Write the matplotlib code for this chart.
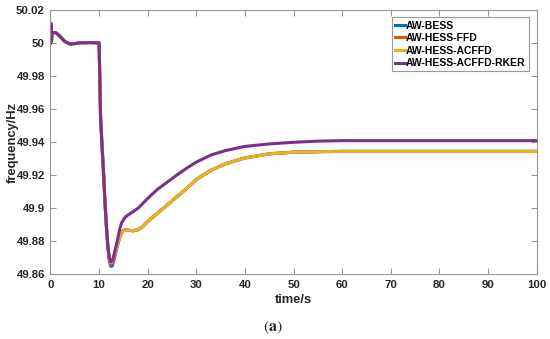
import numpy as np
import matplotlib
matplotlib.use("Agg")
from matplotlib import pyplot as plt

# ----- data -----
t = [0, 0.1, 0.2, 0.3, 0.5, 1, 1.5, 2, 3, 4, 5, 6, 8, 10,
     10.3, 10.6, 10.9, 11.2, 11.5, 11.8, 12.1, 12.4, 12.7, 13.0, 13.4, 13.8,
     14.2, 14.6, 15, 15.5, 16, 17, 18, 19, 20, 22, 24, 26, 28, 30,
     33, 36, 40, 45, 50, 55, 60, 70, 80, 90, 100]

head = [50.000, 50.012, 50.001, 50.006, 50.0065, 50.0065, 50.0055, 50.004, 50.001,
        49.9996, 49.9998, 50.0003, 50.0004, 50.0003,
        49.955, 49.938, 49.922, 49.904, 49.889, 49.877]

tail_acffd = [49.887, 49.889, 49.892, 49.897, 49.902, 49.907, 49.912, 49.9175,
              49.923, 49.927, 49.9305, 49.933, 49.934, 49.9343, 49.9345,
              49.9345, 49.9345, 49.9345, 49.9345]

f_bess = head + [49.868, 49.8648, 49.865, 49.868, 49.873, 49.878, 49.882, 49.885,
                 49.8866, 49.8869, 49.8867, 49.8864] + tail_acffd
f_ffd = head + [49.869, 49.866, 49.8665, 49.869, 49.8735, 49.878, 49.882, 49.885,
                49.8865, 49.8868, 49.8867, 49.8864] + tail_acffd
f_acffd = head + [49.870, 49.867, 49.8675, 49.870, 49.874, 49.878, 49.882, 49.885,
                  49.8862, 49.8866, 49.8866, 49.8864] + tail_acffd
f_rker = head + [49.870, 49.8675, 49.868, 49.871, 49.876, 49.881, 49.887, 49.891,
                 49.893, 49.895, 49.896, 49.898, 49.900, 49.903, 49.906, 49.9115,
                 49.9158, 49.9202, 49.9243, 49.928, 49.9323, 49.935, 49.9375, 49.939,
                 49.940, 49.9407, 49.941, 49.941, 49.941, 49.941, 49.941]

labels = ["AW-BESS", "AW-HESS-FFD", "AW-HESS-ACFFD", "AW-HESS-ACFFD-RKER"]
colors = ["#0072BD", "#D95319", "#EDB120", "#7E2F8E"]

xticks = [0, 10, 20, 30, 40, 50, 60, 70, 80, 90, 100]
yticks = [49.86, 49.88, 49.9, 49.92, 49.94, 49.96, 49.98, 50, 50.02]
ytick_labels = ["49.86", "49.88", "49.9", "49.92", "49.94", "49.96", "49.98", "50", "50.02"]

# ----- plot -----
plt.rcParams['font.family'] = ['Liberation Sans', 'DejaVu Sans']
plt.rcParams['mathtext.fontset'] = 'stix'

fig = plt.figure(figsize=(5.5, 3.39), dpi=100)
ax = fig.add_axes([0.0918, 0.1909, 0.884, 0.7787])

for y, lab, c in zip([f_bess, f_ffd, f_acffd, f_rker], labels, colors):
    ax.plot(t, y, color=c, lw=2.2, label=lab, solid_joinstyle="round")

ax.set_xlim(0, 100)
ax.set_ylim(49.86, 50.02)
ax.set_xticks(xticks)
ax.set_yticks(yticks)
ax.set_yticklabels(ytick_labels)

ax.tick_params(direction="in", length=4, width=0.8, color="#999999",
               top=True, right=True, labelsize=8.2, labelcolor="#262626", pad=4)
for lab in ax.get_xticklabels() + ax.get_yticklabels():
    lab.set_fontweight("bold")
for sp in ax.spines.values():
    sp.set_color("#999999")
    sp.set_linewidth(0.8)

ax.set_xlabel("time/s", fontsize=9.3, fontweight="bold", color="#262626")
ax.set_ylabel("frequency/Hz", fontsize=9.3, fontweight="bold", color="#262626")
ax.xaxis.set_label_coords(0.5, -0.076)
ax.yaxis.set_label_coords(-0.066, 0.5)

leg = ax.legend(loc="upper right", bbox_to_anchor=(0.99, 0.985),
                prop={"weight": "bold", "size": 7.5}, handlelength=0.9, handletextpad=0.15,
                labelspacing=0.25, borderpad=0.3, borderaxespad=0.3, fancybox=False,
                framealpha=1.0)
leg.get_frame().set_edgecolor("#999999")
leg.get_frame().set_linewidth(0.8)

fig.text(0.497, 0.035, r"$(\mathbf{a})$", ha="center", va="center", fontsize=11.5,
         color="#262626")

fig.savefig("out.png", dpi=100)
